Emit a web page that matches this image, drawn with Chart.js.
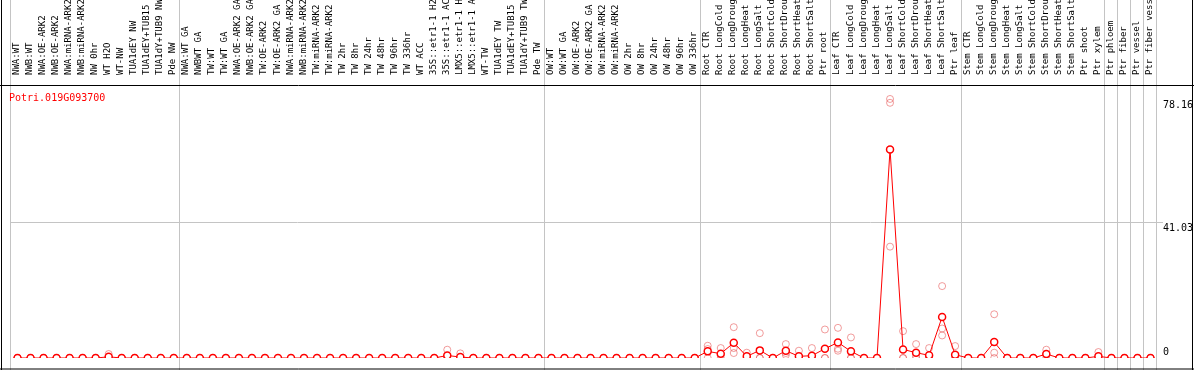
<!DOCTYPE html>
<html>
<head>
<meta charset="utf-8">
<title>Potri.019G093700</title>
<script src="https://cdn.jsdelivr.net/npm/chart.js@4.4.1/dist/chart.umd.min.js"></script>
<style>
    html, body { margin: 0; padding: 0; background: #fff; }
    #myChart { display: block; }
</style>
</head>
<body>
<canvas id="myChart" width="1194" height="370"></canvas>
<script>
// *Gene name
const geneName = "Potri.019G093700";

// *Samples (x axis)
const categories = [
    "NWA:WT", "NWB:WT", "NWA:OE-ARK2", "NWB:OE-ARK2", "NWA:miRNA-ARK2", "NWB:miRNA-ARK2", "NW 0hr", "WT H2O", "WT-NW",
    "TUA1dEY NW", "TUA1dEY+TUB15 NW", "TUA1dY+TUB9 NW", "Pde NW",
    "NWA:WT GA", "NWBWT GA", "TW:WT", "TW:WT GA", "NWA:OE-ARK2 GA", "NWB:OE-ARK2 GA", "TW:OE-ARK2", "TW:OE-ARK2 GA",
    "NWA:miRNA-ARK2", "NWB:miRNA-ARK2", "TW:miRNA-ARK2", "TW:miRNA-ARK2", "TW 2hr", "TW 8hr", "TW 24hr", "TW 48hr",
    "TW 96hr", "TW 336hr", "WT ACC", "35S::etr1-1 H2O", "35S::etr1-1 ACC", "LMX5::etr1-1 H2O", "LMX5::etr1-1 ACC",
    "WT-TW", "TUA1dEY TW", "TUA1dEY+TUB15 TW", "TUA1dY+TUB9 TW", "Pde TW",
    "OW:WT", "OW:WT GA", "OW:OE-ARK2", "OW:OE-ARK2 GA", "OW:miRNA-ARK2", "OW:miRNA-ARK2", "OW 2hr", "OW 8hr",
    "OW 24hr", "OW 48hr", "OW 96hr", "OW 336hr",
    "Root CTR", "Root LongCold", "Root LongDrought", "Root LongHeat", "Root LongSalt", "Root ShortCold",
    "Root ShortDrought", "Root ShortHeat", "Root ShortSalt", "Ptr root",
    "Leaf CTR", "Leaf LongCold", "Leaf LongDrought", "Leaf LongHeat", "Leaf LongSalt", "Leaf ShortCold",
    "Leaf ShortDrought", "Leaf ShortHeat", "Leaf ShortSalt", "Ptr leaf",
    "Stem CTR", "Stem LongCold", "Stem LongDrought", "Stem LongHeat", "Stem LongSalt", "Stem ShortCold",
    "Stem ShortDrought", "Stem ShortHeat", "Stem ShortSalt", "Ptr shoot",
    "Ptr xylem", "Ptr phloem", "Ptr fiber", "Ptr vessel", "Ptr fiber vessel"
];

// *Index where a new sample group starts (grey separator lines)
const groupBreaks = [0, 13, 41, 53, 63, 73, 84, 85, 86, 87, 88];

// *Mean expression
const meanValues = [
    0, 0, 0, 0, 0, 0, 0, 0.35, 0, 0, 0, 0, 0,
    0, 0, 0, 0, 0, 0, 0, 0, 0, 0, 0, 0, 0, 0, 0, 0, 0, 0, 0, 0, 0.75, 0.3, 0, 0, 0, 0, 0, 0,
    0, 0, 0, 0, 0, 0, 0, 0, 0, 0, 0, 0,
    2.0, 1.3, 4.6, 0.5, 2.3, 0, 2.2, 0.5, 0.7, 2.8,
    4.7, 2.0, 0, 0, 62.9, 2.6, 1.6, 0.8, 12.4, 1.0,
    0, 0, 4.8, 0, 0, 0, 1.2, 0, 0, 0,
    0.5, 0, 0, 0, 0
];

// *Replicates
const replicateA = [
    0, 0, 0, 0, 0, 0, 0, 1.2, 0, 0, 0, 0, 0,
    0, 0, 0, 0, 0, 0, 0, 0, 0, 0, 0, 0, 0, 0, 0, 0, 0, 0, 0, 0, 2.5, 1.4, 0, 0, 0, 0, 0, 0,
    0, 0, 0, 0, 0, 0, 0, 0, 0, 0, 0, 0,
    3.7, 3.0, 9.3, 1.6, 7.5, 0, 4.2, 2.2, 3.0, 8.6,
    9.1, 6.2, 0, 0, 78.16, 8.1, 4.2, 3.0, 21.7, 3.6,
    0, 0, 13.2, 0, 0, 0, 2.5, 0, 0, 0,
    1.8, 0, 0, 0, 0
];
const replicateB = [
    0, 0, 0, 0, 0, 0, 0, 0, 0, 0, 0, 0, 0,
    0, 0, 0, 0, 0, 0, 0, 0, 0, 0, 0, 0, 0, 0, 0, 0, 0, 0, 0, 0, 0, 0, 0, 0, 0, 0, 0, 0,
    0, 0, 0, 0, 0, 0, 0, 0, 0, 0, 0, 0,
    2.7, 0.9, 3.0, 0, 0, 0, 1.5, 0, 0, 0,
    2.8, 0, 0, 0, 77.0, 0, 0.6, 0, 8.9, 0,
    0, 0, 1.6, 0, 0, 0, 1.0, 0, 0, 0,
    0, 0, 0, 0, 0
];
const replicateC = [
    0, 0, 0, 0, 0, 0, 0, 0, 0, 0, 0, 0, 0,
    0, 0, 0, 0, 0, 0, 0, 0, 0, 0, 0, 0, 0, 0, 0, 0, 0, 0, 0, 0, 0, 0, 0, 0, 0, 0, 0, 0,
    0, 0, 0, 0, 0, 0, 0, 0, 0, 0, 0, 0,
    0, 0, 1.5, 0, 0, 0, 0.9, 0, 0, 0,
    2.2, 0, 0, 0, 33.6, 0, 0, 0, 6.8, 0,
    0, 0, 0, 0, 0, 0, 0, 0, 0, 0,
    0, 0, 0, 0, 0
];

// *Y axis: max, half of the axis, 0
const yTicks = [0, 41.03, 78.16];
const yMax = 82.07;

const gridColor = "#c4c4c4";
const monoFont = "'DejaVu Sans Mono', monospace";

// separators, frame and gene name
const framePlugin = {
    id: "frame",
    beforeDatasetsDraw(chart) {
        const ctx = chart.ctx;
        const x = chart.scales.x;
        const area = chart.chartArea;
        ctx.save();
        ctx.strokeStyle = gridColor;
        ctx.lineWidth = 1;
        groupBreaks.forEach((b) => {
            var px;
            if (b === 0) px = area.left;
            else if (b >= categories.length) px = area.right;
            else px = (x.getPixelForValue(b - 1) + x.getPixelForValue(b)) / 2;
            px = Math.round(px) - 0.5;
            ctx.beginPath();
            ctx.moveTo(px, 0);
            ctx.lineTo(px, chart.height);
            ctx.stroke();
        });
        ctx.fillStyle = "#ff0000";
        ctx.font = "10px " + monoFont;
        ctx.textBaseline = "alphabetic";
        ctx.fillText(geneName, 9, area.top + 15);
        ctx.restore();
    },
    afterDraw(chart) {
        const ctx = chart.ctx;
        const w = chart.width, h = chart.height;
        const top = Math.round(chart.chartArea.top) - 0.5;
        ctx.save();
        ctx.strokeStyle = "#000";
        ctx.lineWidth = 1;
        ctx.beginPath();
        ctx.moveTo(1.5, 0); ctx.lineTo(1.5, h);
        ctx.moveTo(w - 1.5, 0); ctx.lineTo(w - 1.5, h);
        ctx.moveTo(0, top); ctx.lineTo(w, top);
        ctx.moveTo(0, h - 1); ctx.lineTo(w, h - 1);
        ctx.stroke();
        ctx.restore();
    }
};

new Chart("myChart", {
    type: "line",
    data: {
        labels: categories,
        datasets: [{
            data: meanValues,
            borderColor: "#ff0000",
            borderWidth: 1,
            pointRadius: 3.5,
            pointBorderWidth: 1.5,
            pointBorderColor: "#ff0000",
            pointBackgroundColor: "#ffffff",
            tension: 0
        }, {
            data: replicateA,
            showLine: false,
            pointRadius: 3.5,
            pointBorderWidth: 1,
            pointBorderColor: "rgba(232, 90, 90, 0.6)",
            pointBackgroundColor: "rgba(0,0,0,0)"
        }, {
            data: replicateB,
            showLine: false,
            pointRadius: 3.5,
            pointBorderWidth: 1,
            pointBorderColor: "rgba(232, 90, 90, 0.6)",
            pointBackgroundColor: "rgba(0,0,0,0)"
        }, {
            data: replicateC,
            showLine: false,
            pointRadius: 3.5,
            pointBorderWidth: 1,
            pointBorderColor: "rgba(232, 90, 90, 0.6)",
            pointBackgroundColor: "rgba(0,0,0,0)"
        }]
    },
    options: {
        responsive: false,
        animation: false,
        layout: { padding: { left: 11, right: 0, top: 0, bottom: 1.5 } },
        plugins: {
            legend: { display: false },
            tooltip: { enabled: false }
        },
        scales: {
            x: {
                position: "top",
                offset: true,
                grid: { display: false },
                border: { display: false },
                ticks: {
                    autoSkip: false,
                    minRotation: 90,
                    maxRotation: 90,
                    padding: 3,
                    labelOffset: 10,
                    color: "#000",
                    font: { family: monoFont, size: 9 }
                },
                afterFit: (scale) => { scale.height = 86; }
            },
            y: {
                position: "right",
                min: 0,
                max: yMax,
                border: { display: false },
                grid: {
                    tickLength: 6,
                    color: (c) => (c.tick && c.tick.value === 41.03 ? gridColor : "rgba(0,0,0,0)")
                },
                afterBuildTicks: (scale) => {
                    scale.ticks = yTicks.map((v) => ({ value: v }));
                },
                ticks: {
                    padding: 0,
                    color: "#000",
                    font: { family: monoFont, size: 10 },
                    callback: (value) => (value === 0 ? ["0", ""] : ["", String(value)])
                },
                afterFit: (scale) => { scale.width = 37; }
            }
        }
    },
    plugins: [framePlugin]
});
</script>
</body>
</html>
